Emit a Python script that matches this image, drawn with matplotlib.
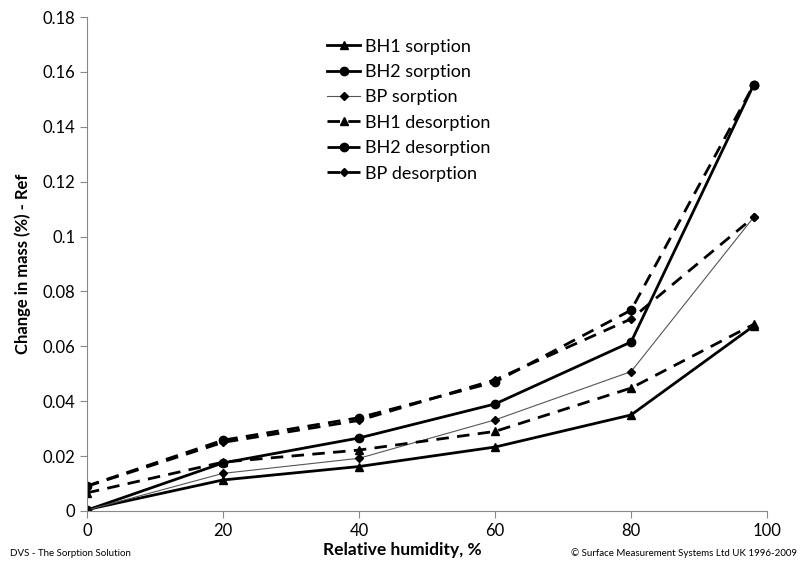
import matplotlib
matplotlib.use("Agg")
import matplotlib.pyplot as plt
from matplotlib.ticker import FuncFormatter

plt.rcParams["font.family"] = ["Lato", "DejaVu Sans"]

rh = [0, 20, 40, 60, 80, 98]
bh1_sorption = [0.0005, 0.0113, 0.0162, 0.0233, 0.0350, 0.0674]
bh2_sorption = [0.0003, 0.0175, 0.0266, 0.0390, 0.0616, 0.1552]
bp_sorption = [0.0003, 0.0137, 0.0192, 0.0332, 0.0508, 0.1070]
bh1_desorption = [0.0066, 0.0178, 0.0222, 0.0290, 0.0448, 0.0680]
bh2_desorption = [0.0091, 0.0258, 0.0340, 0.0470, 0.0732, 0.1552]
bp_desorption = [0.0090, 0.0250, 0.0330, 0.0478, 0.0700, 0.1070]

series = [
    ("BH1 sorption", bh1_sorption, "-", "^", 2.0, 6),
    ("BH2 sorption", bh2_sorption, "-", "o", 2.0, 6),
    ("BP sorption", bp_sorption, "-", "D", 0.8, 4.5),
    ("BH1 desorption", bh1_desorption, "--", "^", 2.0, 6),
    ("BH2 desorption", bh2_desorption, "--", "o", 2.0, 6),
    ("BP desorption", bp_desorption, "--", "D", 2.0, 4.5),
]

fig = plt.figure(figsize=(8.05, 5.68), dpi=100)
ax = fig.add_axes([0.108, 0.1004, 0.845, 0.8696])

for label, values, ls, marker, lw, ms in series:
    color = "#555555" if lw < 1 else "black"
    ax.plot(rh, values, linestyle=ls, color=color, linewidth=lw, marker=marker,
            markersize=ms, markerfacecolor="black", markeredgecolor="black",
            dashes=(4.5, 3) if ls == "--" else (None, None), label=label)

ax.set_xlim(0, 100)
ax.set_ylim(0, 0.18)
ax.set_xticks([0, 20, 40, 60, 80, 100])
ax.set_yticks([0, 0.02, 0.04, 0.06, 0.08, 0.1, 0.12, 0.14, 0.16, 0.18])
ax.yaxis.set_major_formatter(FuncFormatter(lambda v, p: f"{v:g}"))
for side in ("top", "right"):
    ax.spines[side].set_visible(False)
for side in ("left", "bottom"):
    ax.spines[side].set_color("#888888")
ax.tick_params(axis="both", colors="#888888", labelcolor="black", labelsize=12,
               length=5, direction="out")

ax.set_ylabel("Change in mass (%) - Ref", fontsize=12, fontweight="bold", labelpad=8)
fig.text(0.5, 0.018, "Relative humidity, %", ha="center", va="bottom",
         fontsize=12.5, fontweight="bold")
fig.text(0.012, 0.018, "DVS - The Sorption Solution", ha="left", va="bottom", fontsize=7)
fig.text(0.99, 0.018, "\u00a9 Surface Measurement Systems Ltd UK 1996-2009",
         ha="right", va="bottom", fontsize=7)

ax.legend(loc="upper left", bbox_to_anchor=(0.335, 0.982), frameon=False, fontsize=13,
          handlelength=1.8, labelspacing=0.52, handletextpad=0.3, borderpad=0.2)

fig.savefig("out.png", dpi=100)
